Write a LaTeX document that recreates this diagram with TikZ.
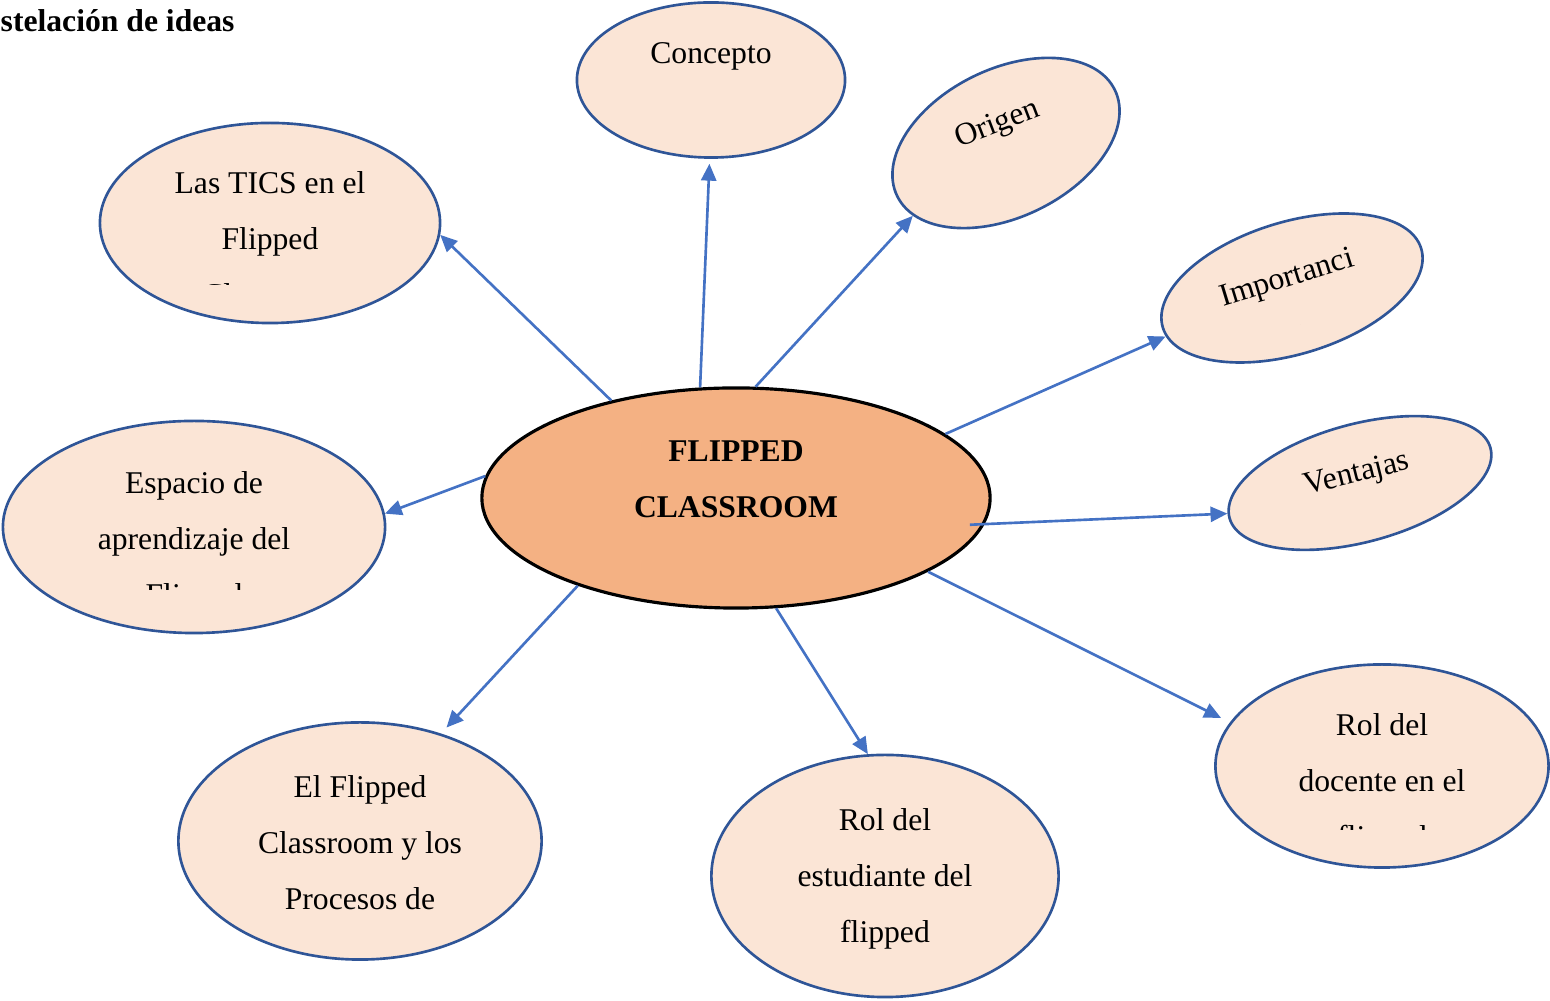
\documentclass[tikz,border=0pt]{standalone}
\usepackage{fontspec}
\setmainfont{Liberation Serif}
\usepackage{color}
\usepackage{tikz}
\usetikzlibrary{shapes.geometric,arrows.meta}

\definecolor{ideafill}{HTML}{FBE5D6}
\definecolor{ideaborder}{HTML}{2F5597}
\definecolor{corefill}{HTML}{F4B183}
\definecolor{linkblue}{HTML}{4472C4}

\tikzset{
    idea/.style={ellipse, draw=ideaborder, fill=ideafill, line width=0.75pt, inner sep=0pt},
    core/.style={ellipse, draw=black, fill=corefill, line width=0.9pt, inner sep=0pt},
    txt/.style={inner sep=0pt, align=center, font=\fontsize{9}{15.9}\selectfont},
    link/.style={draw=linkblue, line width=0.75pt, -{Triangle[length=4.8pt,width=4.3pt]}}
}

\begin{document}
\begin{tikzpicture}[x=0.01cm, y=-0.01cm]
    \useasboundingbox (0,0) rectangle (1550,1001);

    \node[anchor=base west, inner sep=0pt, font=\fontsize{9}{11}\selectfont\bfseries] (title) at (0,32) {stelación de ideas};

    % bubbles
    \node[core, minimum width=5.08cm, minimum height=2.2cm] (fc) at (736,498) {};
    \node[idea, minimum width=2.68cm, minimum height=1.55cm] (concepto) at (711,80) {};
    \node[idea, minimum width=2.42cm, minimum height=1.48cm, rotate=26] (origen) at (1006,143) {};
    \node[idea, minimum width=2.7cm, minimum height=1.32cm, rotate=17] (importancia) at (1292,288) {};
    \node[idea, minimum width=2.7cm, minimum height=1.18cm, rotate=15] (ventajas) at (1360,483) {};
    \node[idea, minimum width=3.33cm, minimum height=2.03cm] (docente) at (1382,766) {};
    \node[idea, minimum width=3.47cm, minimum height=2.42cm] (estudiante) at (885,876) {};
    \node[idea, minimum width=3.63cm, minimum height=2.37cm] (procesos) at (360,841) {};
    \node[idea, minimum width=3.82cm, minimum height=2.12cm] (espacio) at (194,527) {};
    \node[idea, minimum width=3.4cm, minimum height=2.0cm] (tics) at (270,223) {};

    % texts
    \node[txt, anchor=north, font=\fontsize{9}{15.9}\selectfont\bfseries] (fc-t) at (736,440) {FLIPPED\\CLASSROOM};
    \node[txt, anchor=north] (concepto-t) at (711,42) {Concepto};
    \node[txt, rotate=21] (origen-t) at (998,125) {Origen};
    \begin{scope}[shift={(1292,288)}, rotate=17]
        \clip (-130,-60) rectangle (130,37);
        \node[txt, anchor=north, rotate=17] (importancia-t) at (-2,-24) {Importanci\\a};
    \end{scope}
    \node[txt, rotate=14] (ventajas-t) at (1357,475) {Ventajas};
    \begin{scope}
        \clip (1216,665) rectangle (1549,830);
        \node[txt, anchor=north] (docente-t) at (1382,713) {Rol del\\docente en el\\flipped};
    \end{scope}
    \node[txt, anchor=north] (estudiante-t) at (885,808) {Rol del\\estudiante del\\flipped};
    \node[txt, anchor=north] (procesos-t) at (360,775) {El Flipped\\Classroom y los\\Procesos de};
    \begin{scope}
        \clip (3,421) rectangle (385,590);
        \node[txt, anchor=north] (espacio-t) at (194,471) {Espacio de\\aprendizaje del\\Flipped};
    \end{scope}
    \begin{scope}
        \clip (100,123) rectangle (440,285);
        \node[txt, anchor=north] (tics-t) at (270,171) {Las TICS en el\\Flipped\\Classroom};
    \end{scope}

    % arrows
    \path (fc.142) edge[link] (tics.-4);
    \path (fc.108) edge[link, shorten >=1.4pt] (concepto.-91);
    \path (fc.80) edge[link] (origen.192);
    \path (fc.17) edge[link] (importancia.184);
    \path (fc.-6) edge[link, shorten <=-4.2pt] (ventajas.178);
    \path (fc.-21) edge[link, shorten >=2.8pt] (docente.164);
    \path (fc.-70) edge[link] (estudiante.98);
    \path (fc.209) edge[link, shorten >=2.3pt] (procesos.53);
    \path (fc.175) edge[link] (espacio.4);
\end{tikzpicture}
\end{document}
